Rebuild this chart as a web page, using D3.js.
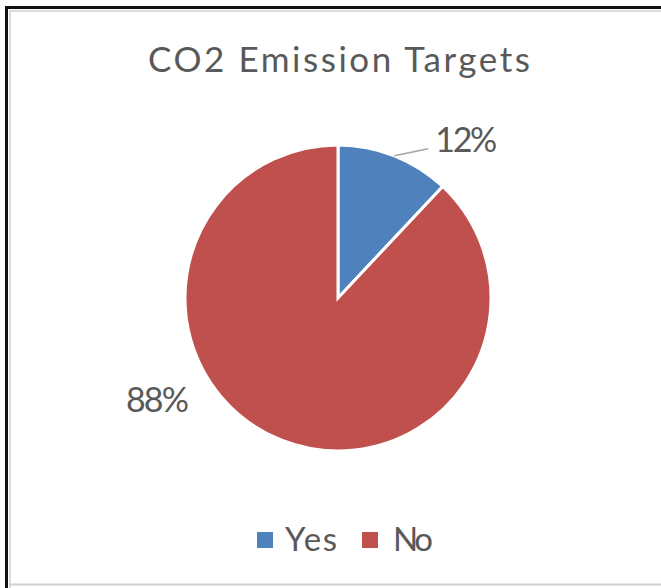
<!DOCTYPE html>
<html>
<head>
<meta charset="utf-8">
<script src="https://cdn.jsdelivr.net/npm/d3@7"></script>
<style>
  html, body { margin: 0; padding: 0; background: #fff; overflow: hidden; }
  svg { display: block; }
  text { font-family: Lato, "Open Sans", sans-serif; fill: #595959; }
</style>
</head>
<body>
<svg id="chart" width="661" height="588"></svg>
<script>
// Share of respondents with CO2 emission targets
const categories = ["Yes", "No"];
const values = [12, 88];
const colors = ["#4F81BD", "#C0504D"];
const titleText = "CO2 Emission Targets";

const W = 661, H = 588;
const svg = d3.select("#chart");

// spread a text's letters so it spans the given width
function fitWidth(sel, width) {
  const node = sel.node();
  const n = sel.text().length;
  const w = node.getComputedTextLength();
  sel.style("letter-spacing", ((width - w) / Math.max(1, n - 1)) + "px");
  return sel;
}

// white backdrop
svg.append("rect").attr("width", W).attr("height", H).attr("fill", "#fff");

// frame: heavy dark edge on left and top, faint inner line
svg.append("path").attr("d", `M6.5,${H} V7.5 H${W}`)
  .attr("fill", "none").attr("stroke", "#111").attr("stroke-width", 3);
svg.append("path").attr("d", `M10,${H} V11 H${W}`)
  .attr("fill", "none").attr("stroke", "#dcdcdc").attr("stroke-width", 2);
svg.append("path").attr("d", `M10,584.5 H${W}`)
  .attr("fill", "none").attr("stroke", "#d0d0d0").attr("stroke-width", 2);

// title
const title = svg.append("text")
  .attr("x", 148).attr("y", 72)
  .style("font-size", "35px")
  .text(titleText);
fitWidth(title, 382);

const cx = 338, cy = 298, r = 153;
const data = categories.map((c, i) => ({ cat: c, value: values[i], color: colors[i] }));

const pie = d3.pie().value(d => d.value).sort(null);
const arcs = pie(data);
const arc = d3.arc().innerRadius(0).outerRadius(r);

const g = svg.append("g").attr("transform", `translate(${cx},${cy})`);
g.selectAll("path")
  .data(arcs)
  .enter().append("path")
  .attr("d", arc)
  .attr("fill", d => d.data.color)
  .attr("stroke", "#fff")
  .attr("stroke-width", 3)
  .attr("stroke-linejoin", "miter");

const total = d3.sum(values);
const pct = v => Math.round(v / total * 100) + "%";

// "Yes" label sits outside with a leader line
const yesArc = arcs[0];
const midYes = (yesArc.startAngle + yesArc.endAngle) / 2;
const edge = [Math.sin(midYes) * r, -Math.cos(midYes) * r];
g.append("polyline")
  .attr("points", [edge, [edge[0] + 34, edge[1] - 7]].map(p => p.join(",")).join(" "))
  .attr("fill", "none")
  .attr("stroke", "#a6a6a6")
  .attr("stroke-width", 1.5);
const yesLabel = g.append("text")
  .attr("x", edge[0] + 41).attr("y", edge[1] - 4)
  .style("font-size", "34px")
  .text(pct(values[0]));
fitWidth(yesLabel, 62);

// "No" label on the lower left, outside the pie
const noLabel = g.append("text")
  .attr("x", -212).attr("y", 114)
  .style("font-size", "34px")
  .text(pct(values[1]));
fitWidth(noLabel, 63);

// legend
const legend = svg.append("g");
const legendItems = [
  { x: 257, tx: 285, w: 52 },
  { x: 362, tx: 393, w: 40 }
];
categories.forEach((c, i) => {
  legend.append("rect")
    .attr("x", legendItems[i].x).attr("y", 532)
    .attr("width", 16).attr("height", 16)
    .attr("fill", colors[i]);
  const t = legend.append("text")
    .attr("x", legendItems[i].tx).attr("y", 551)
    .style("font-size", "33px")
    .text(c);
  fitWidth(t, legendItems[i].w);
});
</script>
</body>
</html>
